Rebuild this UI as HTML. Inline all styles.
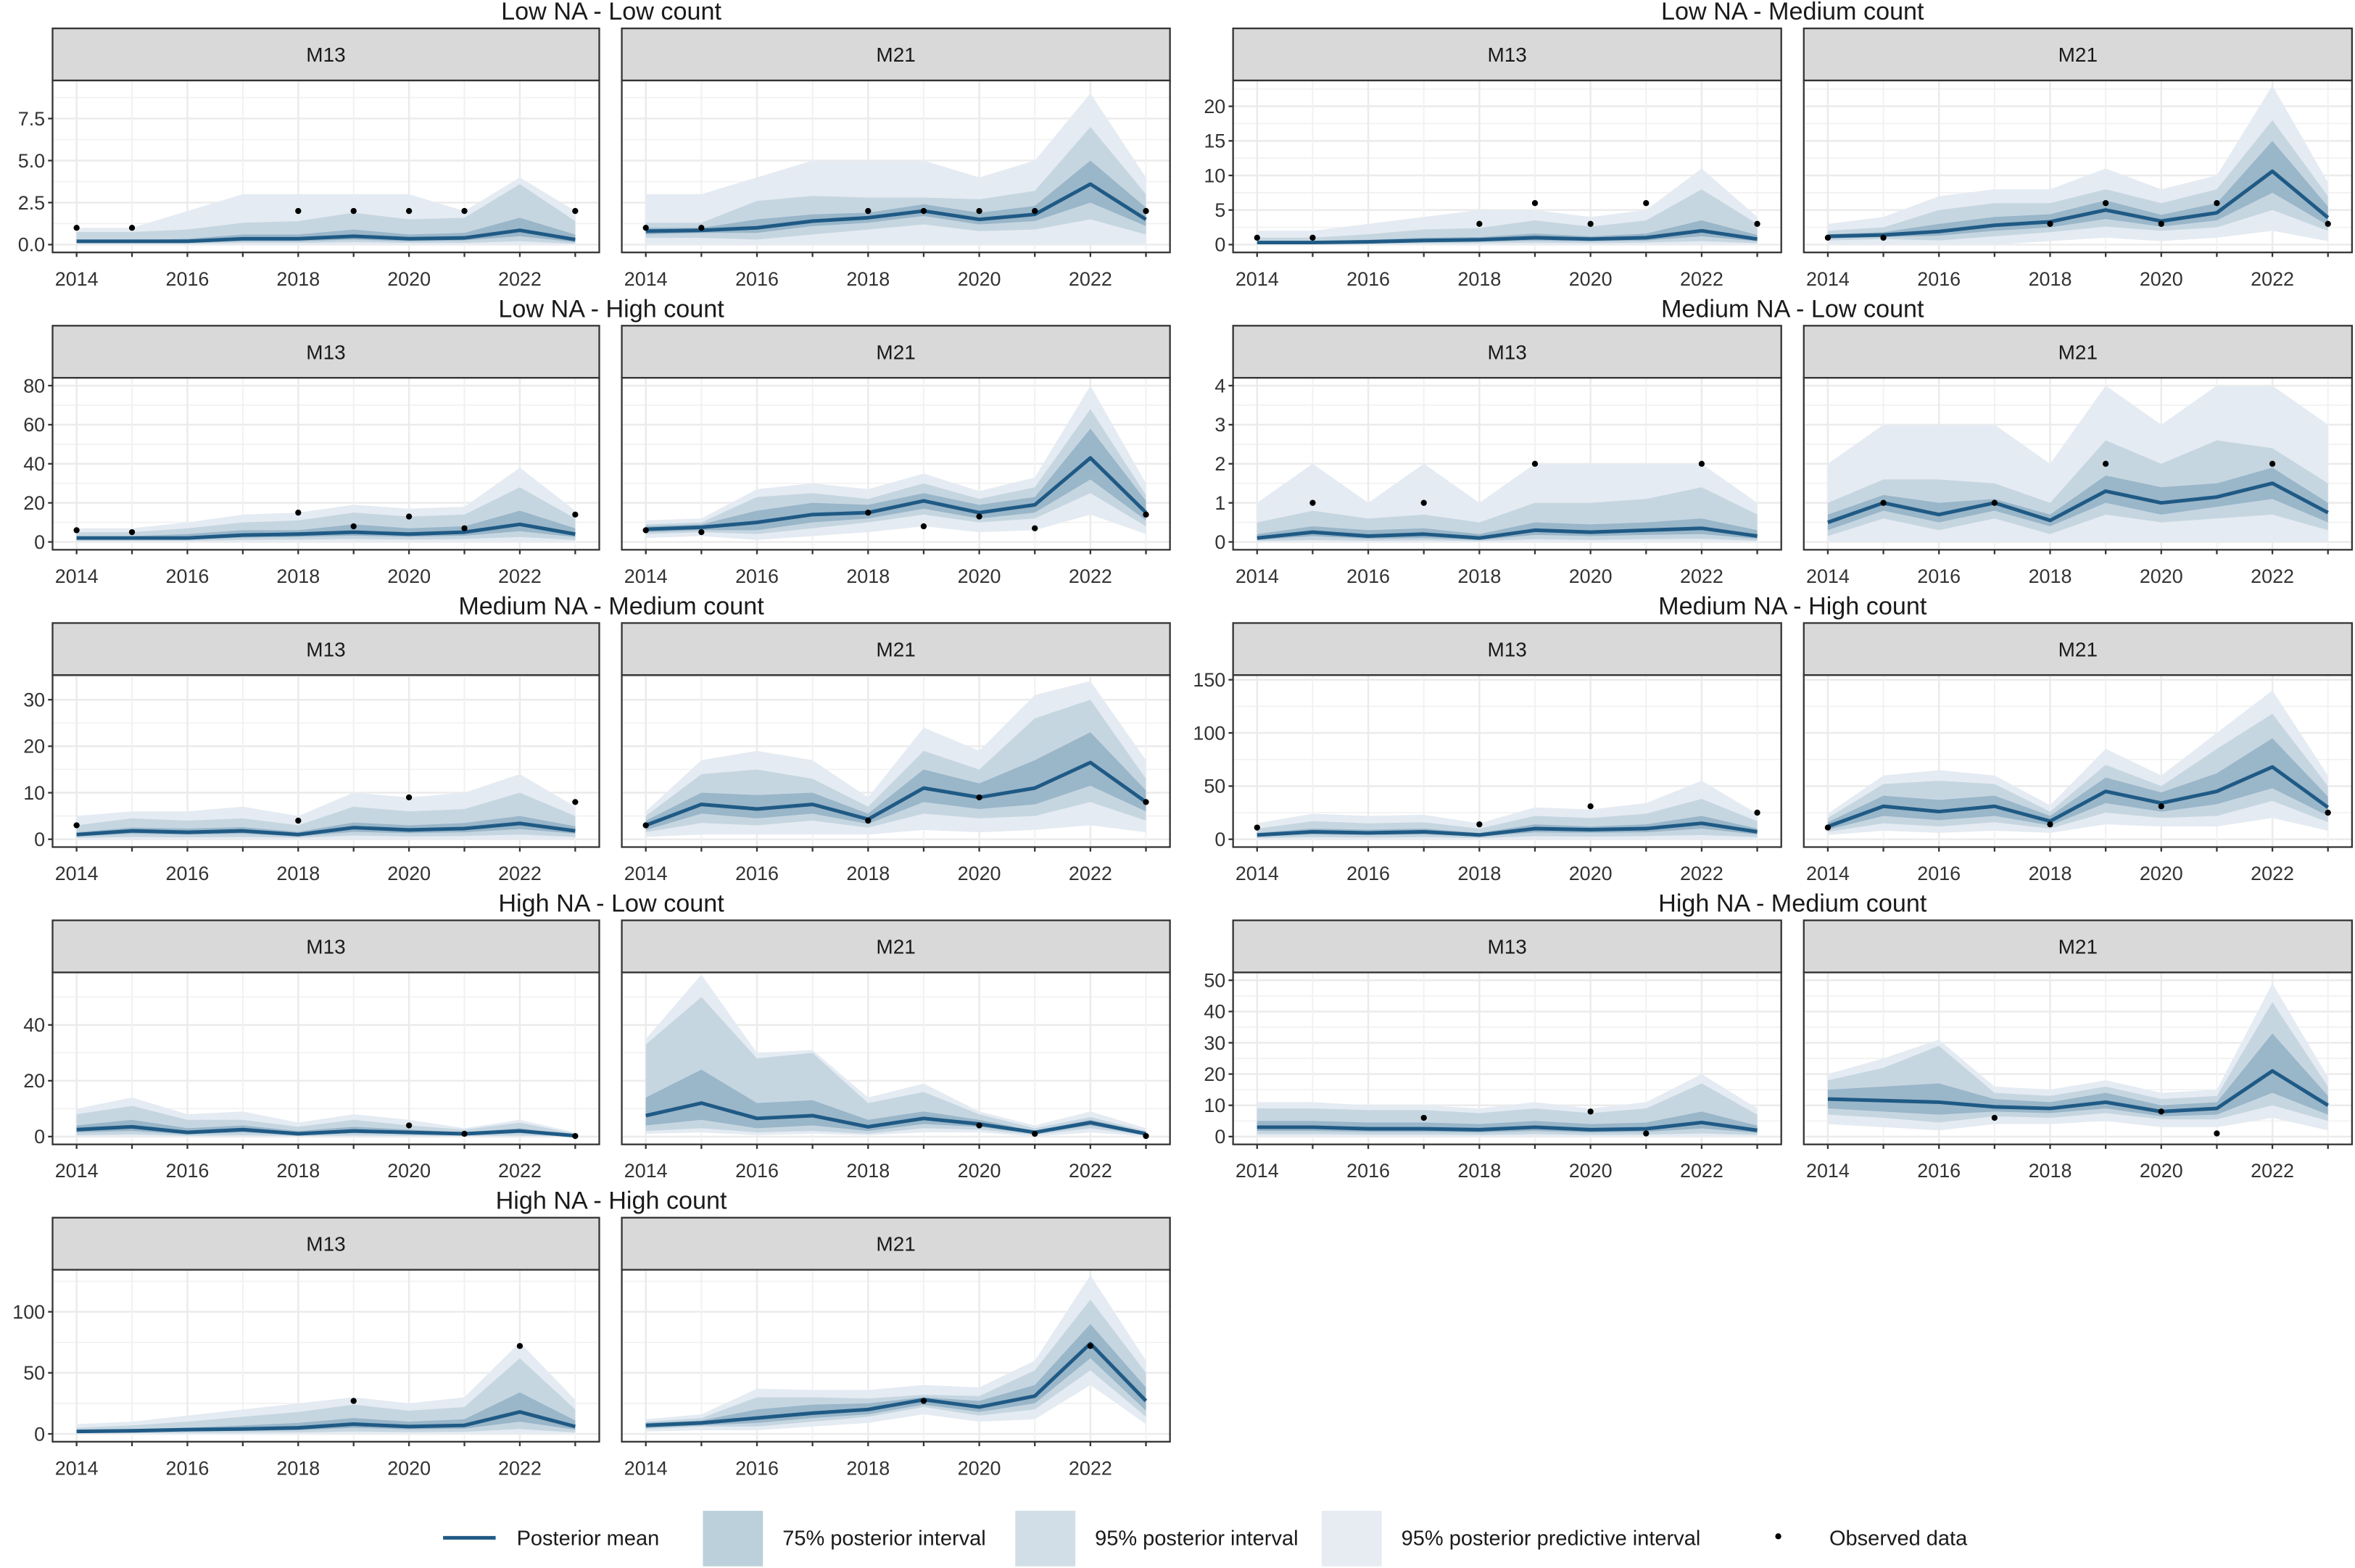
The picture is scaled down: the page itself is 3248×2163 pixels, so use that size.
<!DOCTYPE html>
<html><head><meta charset="utf-8"><style>
html,body{margin:0;padding:0;background:#fff;}
svg{display:block;}
text{font-family:"Liberation Sans",sans-serif;}
</style></head><body>
<svg id="chart" width="3248" height="2163" viewBox="0 0 1568 1044" xmlns="http://www.w3.org/2000/svg"></svg>
<script>
const YEARS=[2014,2015,2016,2017,2018,2019,2020,2021,2022,2023];
const GROUP_TITLES=["Low NA - Low count","Low NA - Medium count","Low NA - High count","Medium NA - Low count","Medium NA - Medium count","Medium NA - High count","High NA - Low count","High NA - Medium count","High NA - High count"];
const GROUP_YMAX=[9.3,22.6,80,4,33.6,147,56,50,128];
const GROUP_TICKS=[[0,2.5,5,7.5],[0,5,10,15,20],[0,20,40,60,80],[0,1,2,3,4],[0,10,20,30],[0,50,100,150],[0,20,40],[0,10,20,30,40,50],[0,50,100]];
const MODELS=["M13","M21"];
const MEAN=[
[0.2,0.2,0.2,0.35,0.35,0.5,0.35,0.4,0.85,0.3],[0.8,0.85,1.0,1.4,1.6,2.0,1.5,1.8,3.6,1.5],
[0.3,0.3,0.4,0.6,0.7,1,0.8,1,2,0.8],[1.2,1.4,1.9,2.8,3.3,5,3.4,4.6,10.6,3.9],
[2,2,2,3.5,4,5,4,5,9,4],[6.5,7.5,10,14,15,21,15,19,43,15],
[0.1,0.25,0.15,0.2,0.1,0.3,0.25,0.3,0.35,0.15],[0.5,1,0.7,1,0.55,1.3,1,1.15,1.5,0.75],
[1,1.8,1.5,1.8,1,2.5,2,2.3,3.4,1.8],[3,7.5,6.5,7.5,4.3,11,9,11,16.5,8],
[4,7,6,7,4,10,9,10,15,7],[12,31,26,31,17,45,34,45,68,30],
[2.5,3.5,1.5,2.5,1,2,1.5,1,2,0.3],[7.5,12,6.5,7.5,3.5,6.5,4.5,1.5,5,1],
[3,3,2.5,2.5,2.2,3,2.2,2.5,4.5,2],[12,11.5,11,9.5,9,11,8,9,21,10],
[2,2.5,3.5,4,5,8,6,7,18,6],[7,9,13,17,20,28,22,31,74,27]];
const HI75=[
[0.25,0.25,0.35,0.6,0.6,0.9,0.6,0.7,1.6,0.6],[1.0,1.0,1.5,1.8,1.9,2.4,1.9,2.3,5,2.2],
[0.5,0.5,0.7,1,1.1,1.6,1.2,1.6,3.5,1.4],[1.5,1.8,3,4,4.4,6.4,4.3,6,15,5.5],
[3,3,4,6,6,9,7,8,16,7],[8,9,16,20,19,25,19,23,58,21],
[0.2,0.4,0.3,0.35,0.2,0.5,0.45,0.5,0.6,0.3],[0.7,1.2,1,1.1,0.7,1.7,1.4,1.5,1.9,1],
[1.5,2.5,2.3,2.6,1.6,3.6,3,3.5,5,2.8],[4,10,9.5,10,5.5,15,12,17,23,10.5],
[6,10,9,10,6,14,12,14,22,10],[16,41,37,41,22,58,44,62,95,40],
[4,6,3,4,2,3.5,2.5,1.5,3,0.5],[14,24,12,13,6,9,6,2,6,1.5],
[5,5,4.5,4.5,4,5,4,4.5,8,3.5],[15,16,17,12,11,14,10,11,33,13],
[3,4,5,7,9,13,10,12,34,11],[9,11,20,24,25,30,27,40,90,38]];
const LO75=[
[0.1,0.1,0.1,0.2,0.2,0.3,0.2,0.25,0.5,0.15],[0.6,0.7,0.7,1.1,1.3,1.7,1.2,1.4,2.5,1.1],
[0.2,0.2,0.25,0.4,0.45,0.6,0.5,0.6,1.2,0.5],[0.9,1.1,1.3,2,2.5,3.7,2.6,3.5,7.5,2.8],
[1.3,1.3,1.2,2.2,2.6,3.2,2.6,3.2,5.5,2.5],[5,6,6,10,12,17,12,15,32,11],
[0.05,0.15,0.08,0.1,0.05,0.18,0.15,0.18,0.2,0.08],[0.3,0.8,0.5,0.8,0.4,1,0.7,0.9,1.1,0.5],
[0.6,1.2,1,1.2,0.6,1.6,1.3,1.5,2.2,1.2],[2,5.5,4.5,5.5,3.3,8,6.5,7.5,11.5,6],
[2.5,4.5,4,4.5,2.5,6.5,6,6.5,10,4.5],[9,22,18,22,13,34,26,33,48,22],
[1.5,2,0.8,1.5,0.5,1.2,0.9,0.6,1.3,0.15],[4,6,3,4,2,4.5,3.5,1,4,0.7],
[1.8,1.8,1.5,1.5,1.3,1.8,1.3,1.5,2.6,1.2],[9,8,7,8,7.5,9,6.5,7,14,7],
[1.2,1.5,2.2,2.5,3,5,3.8,4.3,10,3.5],[5,7,9,13,16,24,18,25,62,19]];
const HI95=[
[0.75,0.75,0.9,1.3,1.4,1.9,1.5,1.6,3.6,1.4],[1.3,1.3,2.6,2.9,2.8,2.8,2.7,3.2,7,3],
[1,1,1.5,2.2,2.4,3.5,2.6,3.5,8,3],[2,2.5,5,6,6,8,6,8,18,7],
[5,5,7,10,11,15,13,14,28,12],[9,10,23,25,22,30,22,28,68,24],
[0.5,0.8,0.6,0.7,0.5,1,1,1.1,1.4,0.7],[1,1.6,1.6,1.5,1,2.6,2,2.6,2.4,1.5],
[3,4.5,4,4.5,3,7,6,6.5,10,5],[5,14,15,13,7,19,15,26,30,13],
[10,17,15,16,10,22,20,24,38,17],[20,52,55,52,26,70,50,85,118,50],
[8,11,6,6,3.5,6,4,2.5,5,1],[33,50,28,30,12,16,8,3,7,2],
[9,9,8.5,8.5,7.5,9,7.5,9,17,7],[18,22,29,14,13,16,12,13,43,16],
[5,7,10,14,18,24,19,22,62,20],[10,13,30,30,29,32,31,52,110,50]];
const LO95=[
[0.05,0.05,0.05,0.1,0.1,0.15,0.1,0.1,0.2,0.05],[0.4,0.4,0.3,0.6,0.9,1.2,0.8,0.9,1.5,0.6],
[0.05,0.05,0.1,0.15,0.2,0.3,0.2,0.3,0.5,0.2],[0.6,0.8,0.6,1.2,1.8,2.6,2,2.5,5,2],
[0.5,0.5,0.5,1,1.2,1.5,1.2,1.5,2.5,1],[4,5,4,7,10,14,10,12,25,8],
[0.02,0.05,0.03,0.04,0.02,0.07,0.05,0.07,0.08,0.03],[0.15,0.6,0.3,0.6,0.2,0.7,0.5,0.6,0.7,0.3],
[0.3,0.5,0.4,0.5,0.3,0.8,0.6,0.7,1,0.5],[1.5,3.5,3,4,2.5,5.5,4.5,5,8,4],
[1,2,1.5,2,1,3,2.5,3,4,2],[7,15,12,16,10,25,20,22,36,16],
[0.5,0.8,0.3,0.5,0.2,0.4,0.3,0.2,0.4,0.05],[2,3,1.5,2,1,3,2.5,0.6,3,0.4],
[0.8,0.8,0.6,0.6,0.5,0.8,0.5,0.6,1,0.5],[7,6,4.5,6.5,6,7.5,5.5,5.5,10,5],
[0.5,0.6,0.8,1,1.2,2,1.5,1.7,4,1.2],[4,6,6,10,14,22,15,20,52,14]];
const HIP=[
[1,1,2,3,3,3,3,2,4,2],[3,3,4,5,5,5,4,5,9,4],
[2,2,3,4,5,5,4,5,11,4],[3,4,7,8,8,11,8,10,23,9],
[7,7,10,14,15,19,17,18,38,16],[11,12,27,30,27,35,26,33,80,30],
[1,2,1,2,1,2,2,2,2,1],[2,3,3,3,2,4,3,4,4,3],
[5,6,6,7,5,10,9,10,14,7],[6,17,19,17,9,24,19,31,34,17],
[15,24,22,23,15,30,28,34,55,24],[24,60,65,60,32,85,60,100,140,60],
[10,14,8,9,5,8,6,3,6,1.5],[35,58,30,31,14,19,9,4,9,3],
[11,11,10,10,9,11,9,11,20,9],[20,25,31,16,15,18,14,15,49,19],
[8,10,15,20,25,30,25,30,75,28],[12,16,37,36,36,40,38,60,130,60]];
const LOP=[
[0,0,0,0,0,0,0,0,0,0],[0,0,0,0,0,0,0,0,0,0],
[0,0,0,0,0,0,0,0,0,0],[0,0,0,0,0.5,1,0.5,1,2,0.5],
[0,0,0,0,0,0,0,0,0,0],[2,3,1,3,5,8,5,6,14,4],
[0,0,0,0,0,0,0,0,0,0],[0,0,0,0,0,0,0,0,0,0],
[0,0,0,0,0,0,0,0,0,0],[0.5,1,1,1,1,2,1.5,2,3,1.5],
[0,0,0,0,0,0,0,0,0,0],[4,8,6,8,6,14,12,12,20,8],
[0,0,0,0,0,0,0,0,0,0],[1,1.5,0.5,1,0.5,1.5,1.5,0,1.5,0],
[0,0,0,0,0,0,0,0,0,0],[4,3,2,4,4,5,3,3,6,2],
[0,0,0,0,0,0,0,0,0,0],[2,3,3,6,9,16,10,12,40,8]];
const OBS=[
[1,1,null,null,2,2,2,2,null,2],
[1,1,null,null,3,6,3,6,null,3],
[6,5,null,null,15,8,13,7,null,14],
[null,1,null,1,null,2,null,null,2,null],
[3,null,null,null,4,null,9,null,null,8],
[11,null,null,null,14,null,31,null,null,25],
[null,null,null,null,null,null,4,1,null,0.2],
[null,null,null,6,null,null,8,1,null,null],
[null,null,null,null,null,27,null,null,72,null]];

const NS="http://www.w3.org/2000/svg";
const svg=document.getElementById('chart');
function mk(tag,attrs,parent){const e=document.createElementNS(NS,tag);for(const k in attrs)e.setAttribute(k,attrs[k]);(parent||svg).appendChild(e);return e;}
function txt(s,attrs,parent){const t=mk('text',attrs,parent);t.textContent=s;return t;}
const COLS=[[35,399],[414,779],[821,1186],[1201,1566]];
const PH=114.5;
function fmt(v,ticks){return ticks.some(t=>t%1!==0)?v.toFixed(1):String(v);}

for(let g=0;g<9;g++){
  const row=Math.floor(g/2), side=g%2, oy=row*198;
  const ymax=GROUP_YMAX[g];
  const gEl=mk('g',{});
  
  
  const c0=COLS[side*2], c1=COLS[side*2+1];
  const tt=txt(GROUP_TITLES[g],{x:(c0[0]+c1[1])/2,y:oy+13,'text-anchor':'middle','font-size':16.5,fill:'#1a1a1a'},gEl);
  
  
  for(let m=0;m<2;m++){
    const idx=2*g+m;
    const [x0,x1]=COLS[side*2+m];
    const top=oy+53.5, bot=top+PH;
    const xs=y=>x0+16+(y-2014)*(x1-x0-32)/9;
    const ys=v=>bot-PH*(v+0.05*ymax)/(1.1*ymax);
    const p=mk('g',{},gEl);
    
    
    const st=mk('rect',{x:x0,y:oy+18.8,width:x1-x0,height:34.7,fill:'#d9d9d9',stroke:'#333','stroke-width':1.1},p);
    
    
    const sl=txt(MODELS[m],{x:(x0+x1)/2,y:oy+41,'text-anchor':'middle','font-size':13.5,fill:'#1a1a1a'},p);
    
    
    mk('rect',{x:x0,y:top,width:x1-x0,height:PH,fill:'#fff'},p);
    const tks=GROUP_TICKS[g];
    for(let i=0;i<tks.length;i++){
      mk('line',{x1:x0,x2:x1,y1:ys(tks[i]),y2:ys(tks[i]),stroke:'#ebebeb','stroke-width':1.2},p);
      if(i<tks.length-1){const mid=(tks[i]+tks[i+1])/2;mk('line',{x1:x0,x2:x1,y1:ys(mid),y2:ys(mid),stroke:'#f1f1f1','stroke-width':0.8},p);}
    }
    const tkTop=tks[tks.length-1]+(tks[1]-tks[0])/2;
    if(ys(tkTop)>top) mk('line',{x1:x0,x2:x1,y1:ys(tkTop),y2:ys(tkTop),stroke:'#f1f1f1','stroke-width':0.8},p);
    YEARS.forEach(yr=>{mk('line',{x1:xs(yr),x2:xs(yr),y1:top,y2:bot,stroke:yr%2===0?'#ebebeb':'#f1f1f1','stroke-width':yr%2===0?1.2:0.9},p);});
    const band=(lo,hi,fill,name)=>{
      let d='M'+YEARS.map((yr,i)=>xs(yr).toFixed(2)+','+ys(hi[i]).toFixed(2)).join('L');
      d+='L'+YEARS.slice().reverse().map((yr,j)=>{const i=9-j;return xs(yr).toFixed(2)+','+ys(lo[i]).toFixed(2);}).join('L')+'Z';
      const b=mk('path',{d:d,fill:fill},p);
      
      
    };
    band(LOP[idx],HIP[idx],'#e5ebf2','predictive-interval-band');
    band(LO95[idx],HI95[idx],'#c6d6e1','posterior-95-band');
    band(LO75[idx],HI75[idx],'#9ab6c9','posterior-75-band');
    const ln=mk('path',{d:'M'+YEARS.map((yr,i)=>xs(yr).toFixed(2)+','+ys(MEAN[idx][i]).toFixed(2)).join('L'),fill:'none',stroke:'#1f5a85','stroke-width':2.4,'stroke-linejoin':'round'},p);
    
    
    OBS[g].forEach((v,i)=>{if(v===null)return;
      const c=mk('circle',{cx:xs(YEARS[i]),cy:ys(v),r:2,fill:'#000'},p);
      
      
    });
    mk('rect',{x:x0,y:top,width:x1-x0,height:PH,fill:'none',stroke:'#333','stroke-width':1.1},p);
    YEARS.forEach(yr=>{mk('line',{x1:xs(yr),x2:xs(yr),y1:bot,y2:bot+3,stroke:'#333','stroke-width':1.1},p);
      if(yr%2===0){const xl=txt(String(yr),{x:xs(yr),y:bot+22,'text-anchor':'middle','font-size':13,fill:'#333'},p);
        
        }
    });
    if(m===0){
      tks.forEach(t=>{mk('line',{x1:x0-3,x2:x0,y1:ys(t),y2:ys(t),stroke:'#333','stroke-width':1.1},p);
        const yl=txt(fmt(t,tks),{x:x0-5,y:ys(t)+4.5,'text-anchor':'end','font-size':13,fill:'#333'},p);
        
        });
    }
  }
}
const lg=mk('g',{});


const e1=mk('line',{x1:295,x2:330,y1:1024,y2:1024,stroke:'#1f5a85','stroke-width':2.4},lg);


txt('Posterior mean',{x:344,y:1029,'font-size':14,fill:'#1a1a1a'},lg);
[[468,'#bcd0db','75% posterior interval'],[676,'#d1dee7','95% posterior interval'],[880,'#e6ecf2','95% posterior predictive interval']].forEach(s=>{
  const r=mk('rect',{x:s[0],y:1006,width:40,height:37,fill:s[1]},lg);
  
  
  txt(s[2],{x:s[0]+53,y:1029,'font-size':14,fill:'#1a1a1a'},lg);
});
const od=mk('circle',{cx:1184,cy:1023,r:2,fill:'#000'},lg);


txt('Observed data',{x:1218,y:1029,'font-size':14,fill:'#1a1a1a'},lg);
</script>
</body></html>
